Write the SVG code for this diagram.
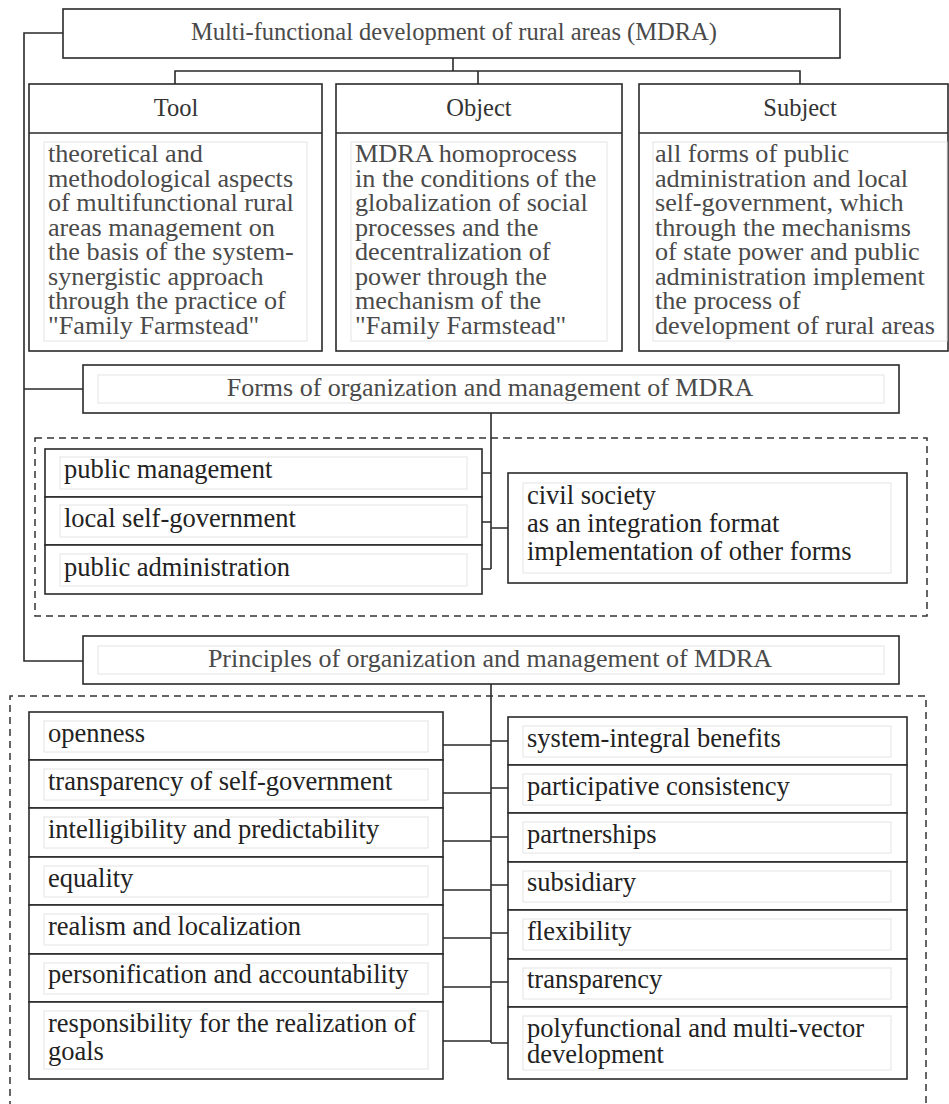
<svg xmlns="http://www.w3.org/2000/svg" width="949" height="1104" viewBox="0 0 949 1104">
<style>
.box{fill:#fff;stroke:#2a2a2a;stroke-width:1.6}
.inner{fill:none;stroke:#e4e4e4;stroke-width:1}
.dash{fill:none;stroke:#333;stroke-width:1.5;stroke-dasharray:7 5}
.ln{fill:none;stroke:#2a2a2a;stroke-width:1.6}
text{font-family:"Liberation Serif","Times New Roman",serif}
.ttl{font-size:24.5px;fill:#4a4a4a;text-anchor:middle}
.sec{font-size:26px;fill:#4a4a4a;text-anchor:middle}
.hd{font-size:24.5px;fill:#333;text-anchor:middle}
.bd{font-size:26.2px;fill:#4a4a4a}
.li{font-size:26.5px;fill:#222}
</style>
<rect width="949" height="1104" fill="#fff"/>
<rect class="dash" x="35" y="438" width="892" height="178"/>
<path class="dash" d="M10,1120 V696 H926 V1120"/>
<g id="connectors">
<path class="ln" d="M63,33 H24 V661 H83 M24,389 H83"/>
<path class="ln" d="M453,58 V71 M175,84 V71 H800 V84 M478,71 V84"/>
<path class="ln" d="M491,413 V569 M482,473 H491 M482,522 H491 M482,569 H491 M491,528 H508"/>
<path class="ln" d="M491,684 V1043 M443,745 H491 M443,793 H491 M443,841 H491 M443,890 H491 M443,938 H491 M443,987 H491 M443,1041 H491 M491,741 H508 M491,788 H508 M491,837 H508 M491,885 H508 M491,933 H508 M491,982 H508 M491,1043 H508"/>
</g>
<g id="title">
<rect class="box" x="63" y="9" width="777" height="49"/>
<text class="ttl" x="454" y="40">Multi-functional development of rural areas (MDRA)</text>
</g>
<g id="tool">
<rect class="box" x="29" y="84" width="293" height="267"/>
<line class="ln" x1="29" y1="133" x2="322" y2="133"/>
<text class="hd" x="176" y="116">Tool</text>
<rect class="inner" x="44" y="142" width="263" height="199"/>
<text class="bd" x="48" y="162">theoretical and</text>
<text class="bd" x="48" y="186.5">methodological aspects</text>
<text class="bd" x="48" y="211">of multifunctional rural</text>
<text class="bd" x="48" y="235.5">areas management on</text>
<text class="bd" x="48" y="260">the basis of the system-</text>
<text class="bd" x="48" y="284.5">synergistic approach</text>
<text class="bd" x="48" y="309">through the practice of</text>
<text class="bd" x="48" y="333.5">"Family Farmstead"</text>
</g>
<g id="object">
<rect class="box" x="336" y="84" width="286" height="267"/>
<line class="ln" x1="336" y1="133" x2="622" y2="133"/>
<text class="hd" x="479" y="116">Object</text>
<rect class="inner" x="351" y="142" width="256" height="199"/>
<text class="bd" x="355" y="162">MDRA homoprocess</text>
<text class="bd" x="355" y="186.5">in the conditions of the</text>
<text class="bd" x="355" y="211">globalization of social</text>
<text class="bd" x="355" y="235.5">processes and the</text>
<text class="bd" x="355" y="260">decentralization of</text>
<text class="bd" x="355" y="284.5">power through the</text>
<text class="bd" x="355" y="309">mechanism of the</text>
<text class="bd" x="355" y="333.5">"Family Farmstead"</text>
</g>
<g id="subject">
<rect class="box" x="639" y="84" width="309" height="267"/>
<line class="ln" x1="639" y1="133" x2="948" y2="133"/>
<text class="hd" x="800" y="116">Subject</text>
<rect class="inner" x="653" y="142" width="294" height="199"/>
<text class="bd" x="655" y="162">all forms of public</text>
<text class="bd" x="655" y="186.5">administration and local</text>
<text class="bd" x="655" y="211">self-government, which</text>
<text class="bd" x="655" y="235.5">through the mechanisms</text>
<text class="bd" x="655" y="260">of state power and public</text>
<text class="bd" x="655" y="284.5">administration implement</text>
<text class="bd" x="655" y="309">the process of</text>
<text class="bd" x="655" y="333.5">development of rural areas</text>
</g>
<g id="forms">
<rect class="box" x="83" y="365" width="816" height="48"/>
<rect class="inner" x="98" y="375" width="786" height="28"/>
<text class="sec" x="490" y="396">Forms of organization and management of MDRA</text>
</g>
<g id="forms-list">
<rect class="box" x="45" y="449" width="437" height="48"/>
<rect class="inner" x="60" y="457" width="407" height="32"/>
<text class="li" x="64" y="478">public management</text>
<rect class="box" x="45" y="497" width="437" height="48"/>
<rect class="inner" x="60" y="505" width="407" height="32"/>
<text class="li" x="64" y="527">local self-government</text>
<rect class="box" x="45" y="545" width="437" height="49"/>
<rect class="inner" x="60" y="554" width="407" height="32"/>
<text class="li" x="64" y="576">public administration</text>
</g>
<g id="civil">
<rect class="box" x="508" y="473" width="399" height="110"/>
<rect class="inner" x="523" y="483" width="368" height="90"/>
<text class="li" x="527" y="504">civil society</text>
<text class="li" x="527" y="532">as an integration format</text>
<text class="li" x="527" y="560">implementation of other forms</text>
</g>
<g id="principles">
<rect class="box" x="83" y="636" width="816" height="48"/>
<rect class="inner" x="98" y="646" width="786" height="28"/>
<text class="sec" x="490" y="667">Principles of organization and management of MDRA</text>
</g>
<g id="principles-left">
<rect class="box" x="29" y="712" width="414" height="48"/>
<rect class="inner" x="44" y="721" width="384" height="31"/>
<text class="li" x="48" y="742">openness</text>
<rect class="box" x="29" y="760" width="414" height="48"/>
<rect class="inner" x="44" y="769" width="384" height="31"/>
<text class="li" x="48" y="790">transparency of self-government</text>
<rect class="box" x="29" y="808" width="414" height="49"/>
<rect class="inner" x="44" y="817" width="384" height="31"/>
<text class="li" x="48" y="838">intelligibility and predictability</text>
<rect class="box" x="29" y="857" width="414" height="48"/>
<rect class="inner" x="44" y="866" width="384" height="31"/>
<text class="li" x="48" y="887">equality</text>
<rect class="box" x="29" y="905" width="414" height="49"/>
<rect class="inner" x="44" y="914" width="384" height="31"/>
<text class="li" x="48" y="935">realism and localization</text>
<rect class="box" x="29" y="954" width="414" height="48"/>
<rect class="inner" x="44" y="963" width="384" height="31"/>
<text class="li" x="48" y="983">personification and accountability</text>
<rect class="box" x="29" y="1002" width="414" height="77"/>
<rect class="inner" x="44" y="1011" width="384" height="58"/>
<text class="li" x="48" y="1032">responsibility for the realization of</text>
<text class="li" x="48" y="1060">goals</text>
</g>
<g id="principles-right">
<rect class="box" x="508" y="717" width="399" height="48"/>
<rect class="inner" x="523" y="726" width="368" height="31"/>
<text class="li" x="527" y="747">system-integral benefits</text>
<rect class="box" x="508" y="765" width="399" height="48"/>
<rect class="inner" x="523" y="774" width="368" height="31"/>
<text class="li" x="527" y="795">participative consistency</text>
<rect class="box" x="508" y="813" width="399" height="49"/>
<rect class="inner" x="523" y="822" width="368" height="31"/>
<text class="li" x="527" y="843">partnerships</text>
<rect class="box" x="508" y="862" width="399" height="48"/>
<rect class="inner" x="523" y="871" width="368" height="31"/>
<text class="li" x="527" y="891">subsidiary</text>
<rect class="box" x="508" y="910" width="399" height="49"/>
<rect class="inner" x="523" y="919" width="368" height="31"/>
<text class="li" x="527" y="940">flexibility</text>
<rect class="box" x="508" y="959" width="399" height="48"/>
<rect class="inner" x="523" y="968" width="368" height="31"/>
<text class="li" x="527" y="988">transparency</text>
<rect class="box" x="508" y="1007" width="399" height="72"/>
<rect class="inner" x="523" y="1016" width="368" height="54"/>
<text class="li" x="527" y="1037">polyfunctional and multi-vector</text>
<text class="li" x="527" y="1063">development</text>
</g>
</svg>
